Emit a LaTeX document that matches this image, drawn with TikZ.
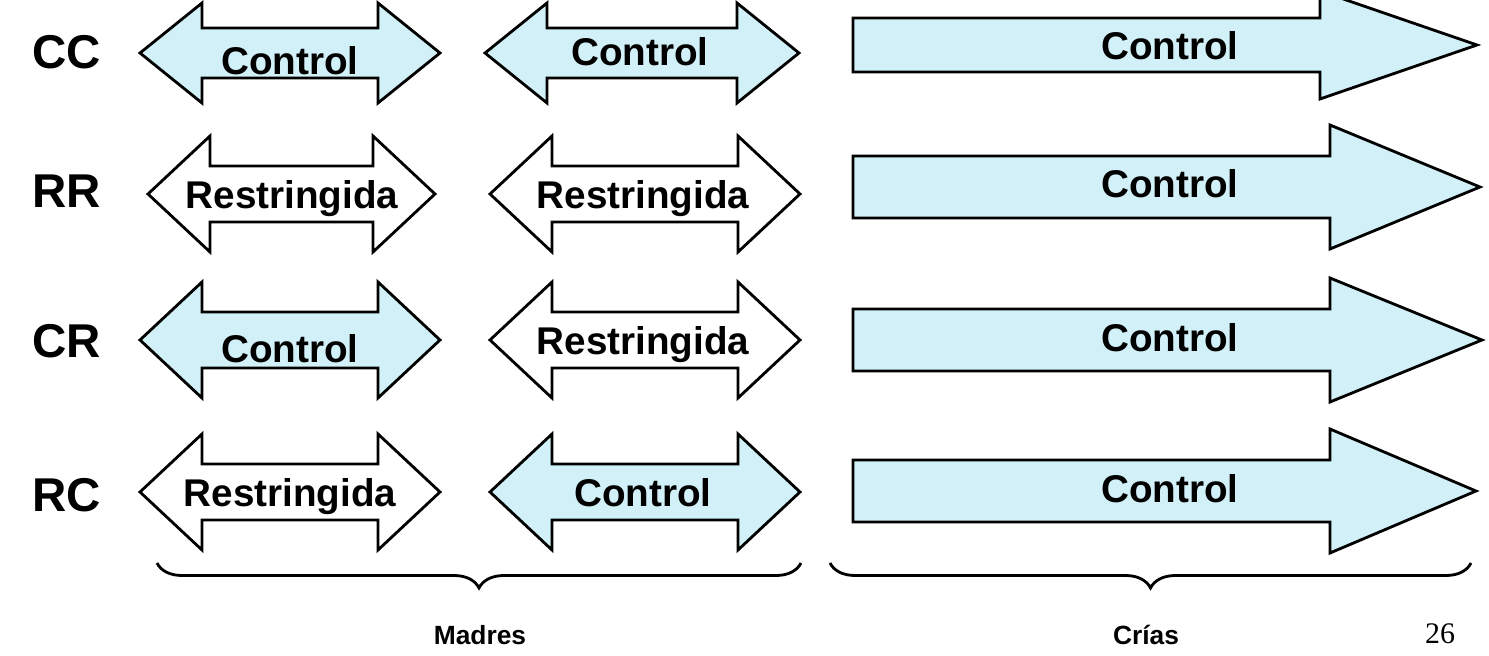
\documentclass[tikz,border=0pt]{standalone}
\usepackage{fontspec}
\setmainfont{Liberation Sans}
\newfontfamily\seriffont{Liberation Serif}
\usetikzlibrary{decorations.pathreplacing}
\definecolor{paleblue}{RGB}{210,240,247}

\begin{document}
\begin{tikzpicture}[
    ctrl/.style={draw=black, thick, fill=paleblue},
    restr/.style={draw=black, thick, fill=white},
    arrtext/.style={font=\bfseries\fontsize{11}{13}\selectfont, inner sep=0pt, text depth=0pt},
    rowlab/.style={font=\bfseries\fontsize{13.5}{16}\selectfont, inner sep=0pt},
    groupbrace/.style={decorate, decoration={brace, mirror, amplitude=0.25cm}, thick},
    grouplab/.style={font=\bfseries\fontsize{7.5}{9}\selectfont, inner sep=0pt}
]
    \useasboundingbox (0,0) rectangle (14.89,6.55);

    % row CC
    \draw[ctrl] (1.40,6.02) -- ++(0.62,0.50) -- ++(0,-0.25) -- ++(1.76,0) -- ++(0,0.25) -- ++(0.62,-0.50) -- ++(-0.62,-0.50) -- ++(0,0.25) -- ++(-1.76,0) -- ++(0,-0.25) -- cycle;
    \draw[ctrl] (4.85,6.02) -- ++(0.62,0.50) -- ++(0,-0.25) -- ++(1.90,0) -- ++(0,0.25) -- ++(0.62,-0.50) -- ++(-0.62,-0.50) -- ++(0,0.25) -- ++(-1.90,0) -- ++(0,-0.25) -- cycle;
    \draw[ctrl] (8.53,6.37) -- (13.20,6.37) -- (13.20,6.64) -- (14.77,6.10) -- (13.20,5.56) -- (13.20,5.83) -- (8.53,5.83) -- cycle;

    % row RR
    \draw[restr] (1.48,4.61) -- ++(0.62,0.58) -- ++(0,-0.30) -- ++(1.63,0) -- ++(0,0.30) -- ++(0.62,-0.58) -- ++(-0.62,-0.58) -- ++(0,0.30) -- ++(-1.63,0) -- ++(0,-0.30) -- cycle;
    \draw[restr] (4.90,4.61) -- ++(0.62,0.58) -- ++(0,-0.30) -- ++(1.86,0) -- ++(0,0.30) -- ++(0.62,-0.58) -- ++(-0.62,-0.58) -- ++(0,0.30) -- ++(-1.86,0) -- ++(0,-0.30) -- cycle;
    \draw[ctrl] (8.53,4.99) -- (13.30,4.99) -- (13.30,5.30) -- (14.80,4.68) -- (13.30,4.06) -- (13.30,4.37) -- (8.53,4.37) -- cycle;

    % row CR
    \draw[ctrl] (1.40,3.15) -- ++(0.62,0.58) -- ++(0,-0.30) -- ++(1.76,0) -- ++(0,0.30) -- ++(0.62,-0.58) -- ++(-0.62,-0.58) -- ++(0,0.30) -- ++(-1.76,0) -- ++(0,-0.30) -- cycle;
    \draw[restr] (4.90,3.15) -- ++(0.62,0.58) -- ++(0,-0.30) -- ++(1.86,0) -- ++(0,0.30) -- ++(0.62,-0.58) -- ++(-0.62,-0.58) -- ++(0,0.30) -- ++(-1.86,0) -- ++(0,-0.30) -- cycle;
    \draw[ctrl] (8.53,3.46) -- (13.30,3.46) -- (13.30,3.77) -- (14.82,3.15) -- (13.30,2.53) -- (13.30,2.84) -- (8.53,2.84) -- cycle;

    % row RC
    \draw[restr] (1.40,1.63) -- ++(0.62,0.58) -- ++(0,-0.30) -- ++(1.76,0) -- ++(0,0.30) -- ++(0.62,-0.58) -- ++(-0.62,-0.58) -- ++(0,0.30) -- ++(-1.76,0) -- ++(0,-0.30) -- cycle;
    \draw[ctrl] (4.90,1.63) -- ++(0.62,0.58) -- ++(0,-0.30) -- ++(1.86,0) -- ++(0,0.30) -- ++(0.62,-0.58) -- ++(-0.62,-0.58) -- ++(0,0.30) -- ++(-1.86,0) -- ++(0,-0.30) -- cycle;
    \draw[ctrl] (8.53,1.95) -- (13.30,1.95) -- (13.30,2.26) -- (14.76,1.64) -- (13.30,1.02) -- (13.30,1.33) -- (8.53,1.33) -- cycle;

    % labels
    \node[rowlab] (cc) at (0.67,6.03) {CC};
    \node[rowlab] (rr) at (0.67,4.64) {RR};
    \node[rowlab] (cr) at (0.67,3.14) {CR};
    \node[rowlab] (rc) at (0.67,1.60) {RC};

    \node[arrtext] (cc1) at (2.90,5.95) {Control};
    \node[arrtext] (cc2) at (6.40,6.04) {Control};
    \node[arrtext] (cc3) at (11.70,6.10) {Control};

    \node[arrtext] (rr1) at (2.92,4.61) {Restringida};
    \node[arrtext] (rr2) at (6.43,4.61) {Restringida};
    \node[arrtext] (rr3) at (11.70,4.72) {Control};

    \node[arrtext] (cr1) at (2.90,3.07) {Control};
    \node[arrtext] (cr2) at (6.43,3.15) {Restringida};
    \node[arrtext] (cr3) at (11.70,3.18) {Control};

    \node[arrtext] (rc1) at (2.90,1.63) {Restringida};
    \node[arrtext] (rc2) at (6.43,1.63) {Control};
    \node[arrtext] (rc3) at (11.70,1.67) {Control};

    % braces
    \coordinate (madL) at (1.57,0.92);
    \coordinate (madR) at (8.01,0.92);
    \coordinate (criL) at (8.30,0.92);
    \coordinate (criR) at (14.71,0.92);
    \draw[groupbrace] (madL) -- (madR);
    \draw[groupbrace] (criL) -- (criR);
    \node[grouplab] (madres) at (4.80,0.20) {Madres};
    \node[grouplab] (crias) at (11.46,0.20) {Crías};
    \node[inner sep=0pt, font=\seriffont\fontsize{8.5}{10}\selectfont] (page) at (14.40,0.21) {26};
\end{tikzpicture}
\end{document}
